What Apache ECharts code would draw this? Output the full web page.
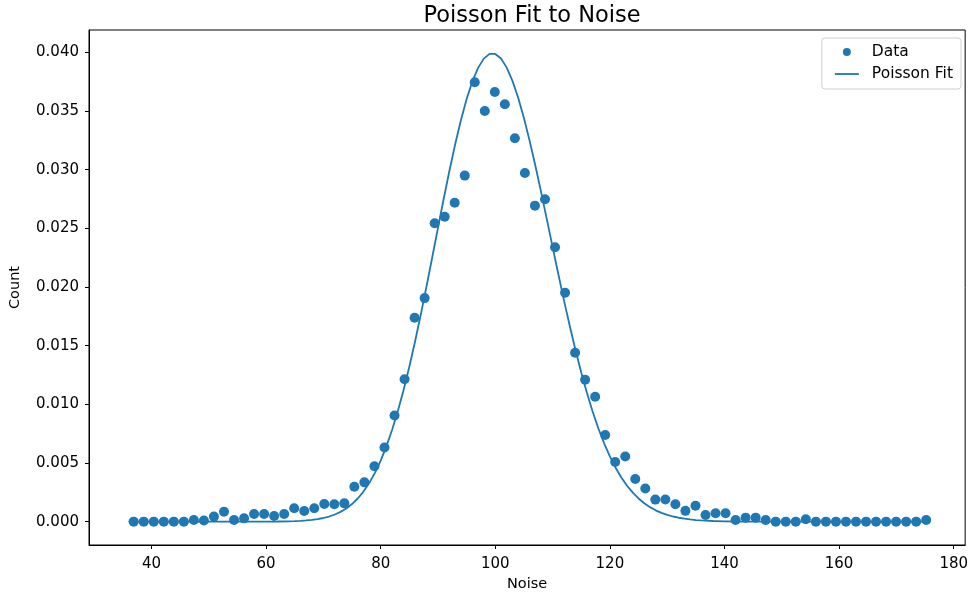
<!DOCTYPE html>
<html>
<head>
<meta charset="utf-8">
<script src="https://cdn.jsdelivr.net/npm/echarts@6/dist/echarts.min.js"></script>
<style>html,body{margin:0;padding:0;background:#fff}#c{width:971px;height:599px}</style>
</head>
<body>
<div id="c"></div>
<script>
const dataX = [36.90,38.65,40.40,42.15,43.90,45.65,47.40,49.15,50.90,52.66,54.41,56.16,57.91,59.66,61.41,63.16,64.91,66.66,68.41,70.16,71.91,73.66,75.41,77.16,78.91,80.67,82.42,84.17,85.92,87.67,89.42,91.17,92.92,94.67,96.42,98.17,99.92,101.67,103.42,105.17,106.92,108.68,110.43,112.18,113.93,115.68,117.43,119.18,120.93,122.68,124.43,126.18,127.93,129.68,131.43,133.18,134.94,136.69,138.44,140.19,141.94,143.69,145.44,147.19,148.94,150.69,152.44,154.19,155.95,157.70,159.45,161.20,162.95,164.70,166.45,168.20,169.95,171.70,173.45,175.20];
const dataY = [0,0,0,0,0,0,0.00014,0.0001,0.00043,0.00085,0.00014,0.00028,0.00065,0.00065,0.00048,0.00065,0.00114,0.00091,0.00114,0.0015,0.00148,0.00156,0.00298,0.00335,0.00472,0.00632,0.00905,0.01213,0.01738,0.01905,0.02543,0.02599,0.02718,0.02949,0.03744,0.0350,0.03662,0.03557,0.03267,0.02971,0.02693,0.02747,0.02339,0.01951,0.0144,0.0121,0.01064,0.00739,0.00508,0.00555,0.00364,0.00283,0.00188,0.00189,0.00149,0.00092,0.00136,0.00057,0.00071,0.00071,0.00014,0.00034,0.00034,0.00014,0,0,0,0.0002,0,0,0,0,0,0,0,0,0,0,0,0.00014];
const fitX = [36,40,45,50,55,58,60,62,64,65,66,67,68,69,70,71,72,73,74,75,76,77,78,79,80,81,82,83,84,85,86,87,88,89,90,91,92,93,94,95,96,97,98,99,100,101,102,103,104,105,106,107,108,109,110,111,112,113,114,115,116,117,118,119,120,121,122,123,124,125,126,127,128,129,130,131,132,133,134,135,136,138,140,142,145,150,160,170,175];
const fitY = [0,0,0,0,0.000001,0.000002,0.000004,0.000012,0.000029,0.000045,0.000068,0.000102,0.00015,0.000217,0.000311,0.000437,0.000608,0.000832,0.001125,0.0015,0.001973,0.002562,0.003285,0.004158,0.005198,0.006417,0.007826,0.009428,0.011224,0.013205,0.015355,0.017649,0.020056,0.022535,0.025039,0.027515,0.029908,0.032159,0.034212,0.036012,0.037513,0.038673,0.039462,0.039861,0.039861,0.039466,0.038692,0.037565,0.03612,0.0344,0.032453,0.03033,0.028083,0.025764,0.023422,0.021101,0.01884,0.016673,0.014625,0.012717,0.010963,0.00937,0.007941,0.006673,0.005561,0.004596,0.003767,0.003063,0.00247,0.001976,0.001568,0.001235,0.000965,0.000748,0.000575,0.000439,0.000333,0.00025,0.000187,0.000138,0.000102,0.000054,0.000028,0.000014,0.000005,0.000001,0,0,0];
const xTicks = [40,60,80,100,120,140,160,180];
const yTicks = [0,0.005,0.01,0.015,0.02,0.025,0.03,0.035,0.04];

const font = 'DejaVu Sans';
const chart = echarts.init(document.getElementById('c'), null, {renderer:'canvas'});
chart.setOption({
  animation:false,
  backgroundColor:'#fff',
  title:{text:'Poisson Fit to Noise', left:527, textAlign:'center', top:0,
    textStyle:{fontFamily:font, fontSize:22.5, fontWeight:'normal', color:'#000'}},
  grid:{left:88, right:3, top:30, bottom:54, show:true, borderColor:'#000', borderWidth:1, containLabel:false},
  legend:{orient:'vertical', right:10, top:38, itemWidth:24, itemHeight:8, itemGap:6,
    padding:[6,8,7,13], borderColor:'#d0d0d0', borderWidth:1, borderRadius:3,
    textStyle:{fontFamily:font, fontSize:15.5, color:'#000', lineHeight:16, padding:[0,0,0,8]},
    data:[{name:'Data', icon:'circle'}, {name:'Poisson Fit', icon:'path://M0,0H24V1.8H0Z'}]},
  xAxis:{type:'value', min:29.1, max:182.0, name:'Noise', nameLocation:'middle', nameGap:32,
    nameTextStyle:{fontFamily:font, fontSize:14.5, color:'#000'},
    axisLine:{show:true, onZero:false, lineStyle:{color:'#000', width:1}},
    axisTick:{show:true, length:4, customValues:xTicks, lineStyle:{color:'#000'}},
    axisLabel:{customValues:xTicks, fontFamily:font, fontSize:15, color:'#000', margin:12},
    splitLine:{show:false}},
  yAxis:{type:'value', min:-0.00199, max:0.0419, name:'Count', nameLocation:'middle', nameGap:66, nameRotate:90,
    nameTextStyle:{fontFamily:font, fontSize:14.5, color:'#000'},
    axisLine:{show:true, onZero:false, lineStyle:{color:'#000', width:1}},
    axisTick:{show:true, length:4, customValues:yTicks, lineStyle:{color:'#000'}},
    axisLabel:{customValues:yTicks, fontFamily:font, fontSize:15, color:'#000', margin:10,
      formatter:v=>v.toFixed(3)},
    splitLine:{show:false}},
  series:[
    {name:'Data', type:'scatter', symbolSize:10, itemStyle:{color:'#1f77b4', opacity:1},
     data:dataX.map((x,i)=>[x,dataY[i]]), z:3},
    {name:'Poisson Fit', type:'line', showSymbol:false, symbol:'none', smooth:false,
     lineStyle:{color:'#1f77b4', width:1.8}, itemStyle:{color:'#1f77b4'},
     data:fitX.map((x,i)=>[x,fitY[i]]), z:2}
  ]
});
</script>
</body>
</html>
